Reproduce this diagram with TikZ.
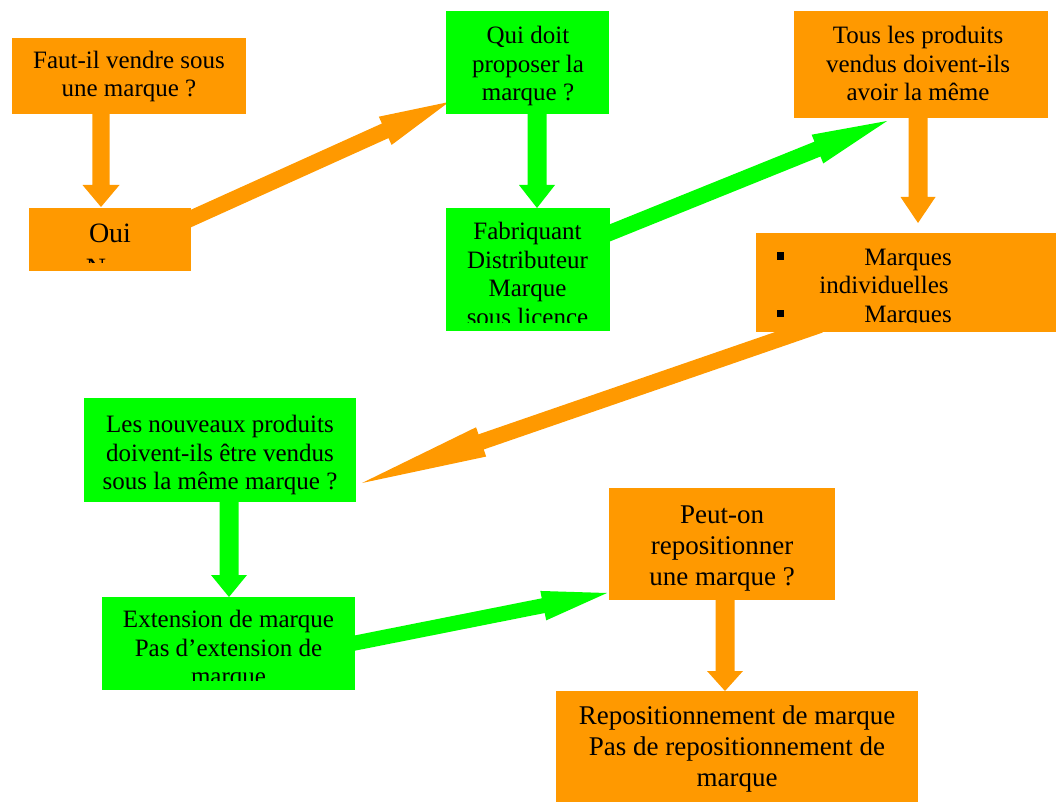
\documentclass[tikz,border=0pt]{standalone}
\usepackage{fontspec}
\setmainfont{Liberation Serif}
\usetikzlibrary{calc}
\definecolor{boxorange}{RGB}{255,153,0}
\definecolor{boxgreen}{RGB}{0,255,0}
% block arrow: colour, tail, tip, head length, shaft half width, head half width
\newcommand\blockarrow[6]{%
  \coordinate (hb) at ($(#3)!#4!(#2)$);
  \fill[#1] ($(#2)!#5!90:(#3)$) -- ($(hb)!#5!90:(#3)$) -- ($(hb)!#6!90:(#3)$)
    -- (#3) -- ($(hb)!#6!-90:(#3)$) -- ($(hb)!#5!-90:(#3)$)
    -- ($(#2)!#5!-90:(#3)$) -- cycle;
}
\tikzset{
  box/.style={inner sep=0pt, outer sep=0pt, anchor=north west},
  obox/.style={box, fill=boxorange},
  gbox/.style={box, fill=boxgreen},
  txt/.style={align=center, inner sep=0pt, font=\fontsize{25}{28.75}\selectfont},
  bigtxt/.style={align=center, inner sep=0pt, font=\fontsize{27}{31}\selectfont},
  hugetxt/.style={inner sep=0pt, font=\fontsize{28}{34}\selectfont},
  bullet/.style={inner sep=0pt, fill=black, minimum size=7.5pt},
}
\begin{document}
\begin{tikzpicture}[x=1pt, y=-1pt]
\useasboundingbox (0,0) rectangle (1056,802);

% arrow end points
\coordinate (a1s) at (101,114);  \coordinate (a1e) at (101,207);
\coordinate (a2s) at (150,237);  \coordinate (a2e) at (449,102);
\coordinate (a3s) at (537,114);  \coordinate (a3e) at (537,208);
\coordinate (a4s) at (560,253);  \coordinate (a4e) at (887,121);
\coordinate (a5s) at (918,118);  \coordinate (a5e) at (918,223);
\coordinate (a6s) at (820,325);  \coordinate (a6e) at (362,483);
\coordinate (a7s) at (229,502);  \coordinate (a7e) at (229,597);
\coordinate (a8s) at (330,648);  \coordinate (a8e) at (607,593);
\coordinate (a9s) at (725,600);  \coordinate (a9e) at (725,691);

% arrows
\blockarrow{boxorange}{a1s}{a1e}{22pt}{8.7pt}{18.5pt}
\blockarrow{boxorange}{a2s}{a2e}{70pt}{8pt}{15.5pt}
\blockarrow{boxgreen}{a3s}{a3e}{23pt}{9.5pt}{18pt}
\blockarrow{boxgreen}{a4s}{a4e}{75pt}{8pt}{15.5pt}
\blockarrow{boxorange}{a5s}{a5e}{26pt}{9.5pt}{17.5pt}
\blockarrow{boxorange}{a6s}{a6e}{126pt}{8pt}{15.5pt}
\blockarrow{boxgreen}{a7s}{a7e}{22pt}{9.5pt}{18pt}
\blockarrow{boxgreen}{a8s}{a8e}{65pt}{7.5pt}{15pt}
\blockarrow{boxorange}{a9s}{a9e}{20pt}{9.5pt}{18pt}

% boxes
\node[obox, minimum width=234pt, minimum height=76pt]  (n1)  at (12,38)   {};
\node[obox, minimum width=162pt, minimum height=63pt]  (n2)  at (29,208)  {};
\node[gbox, minimum width=163pt, minimum height=103pt] (n3)  at (446,11)  {};
\node[gbox, minimum width=164pt, minimum height=123pt] (n4)  at (446,208) {};
\node[obox, minimum width=254pt, minimum height=107pt] (n5)  at (794,11)  {};
\node[obox, minimum width=300pt, minimum height=99pt]  (n6)  at (756,233) {};
\node[gbox, minimum width=272pt, minimum height=104pt] (n7)  at (84,398)  {};
\node[gbox, minimum width=253pt, minimum height=93pt]  (n8)  at (102,597) {};
\node[obox, minimum width=226pt, minimum height=112pt] (n9)  at (609,488) {};
\node[obox, minimum width=362pt, minimum height=112pt] (n10) at (556,691) {};

% texts
\node[txt] (t1) at (129,76.5) {Faut-il vendre sous\\une marque ?};
\begin{scope}
  \clip (n2.north west) rectangle ([yshift=8.3pt]n2.south east);
  \node[hugetxt, anchor=base] (t2a) at (110,243) {Oui};
  \node[hugetxt, anchor=base] (t2b) at (110,277) {Non};
\end{scope}
\node[txt] (t3) at (528,66) {Qui doit\\proposer la\\marque ?};
\begin{scope}
  \clip (n4.north west) rectangle ([yshift=8.5pt]n4.south east);
  \node[txt, anchor=base] (t4a) at (527.5,239.5) {Fabriquant};
  \node[txt, anchor=base] (t4b) at (527.5,268.2) {Distributeur};
  \node[txt, anchor=base] (t4c) at (527.5,296.9) {Marque};
  \node[txt, anchor=base] (t4d) at (527.5,325.6) {sous licence};
\end{scope}
\node[txt] (t5) at (918,63.5) {Tous les produits\\vendus doivent-ils\\avoir la même};
\begin{scope}
  \clip (n6.north west) rectangle ([yshift=9.5pt]n6.south east);
  \node[bullet] (b1) at (780.5,256) {};
  \node[bullet] (b2) at (780.5,313.5) {};
  \node[txt, anchor=base] (t6a) at (908,265) {Marques};
  \node[txt, anchor=base] (t6b) at (884,293.5) {individuelles};
  \node[txt, anchor=base] (t6c) at (908,322) {Marques};
\end{scope}
\node[txt] (t7) at (220,455) {Les nouveaux produits\\doivent-ils être vendus\\sous la même marque ?};
\begin{scope}
  \clip (n8.north west) rectangle ([yshift=10pt]n8.south east);
  \node[txt, anchor=base] (t8a) at (228.5,627.5) {Extension de marque};
  \node[txt, anchor=base] (t8b) at (228.5,656) {Pas d’extension de};
  \node[txt, anchor=base] (t8c) at (228.5,684.5) {marque};
\end{scope}
\node[bigtxt] (t9) at (722,549) {Peut-on\\repositionner\\une marque ?};
\node[bigtxt] (t10) at (737,749) {Repositionnement de marque\\Pas de repositionnement de\\marque};
\end{tikzpicture}
\end{document}
